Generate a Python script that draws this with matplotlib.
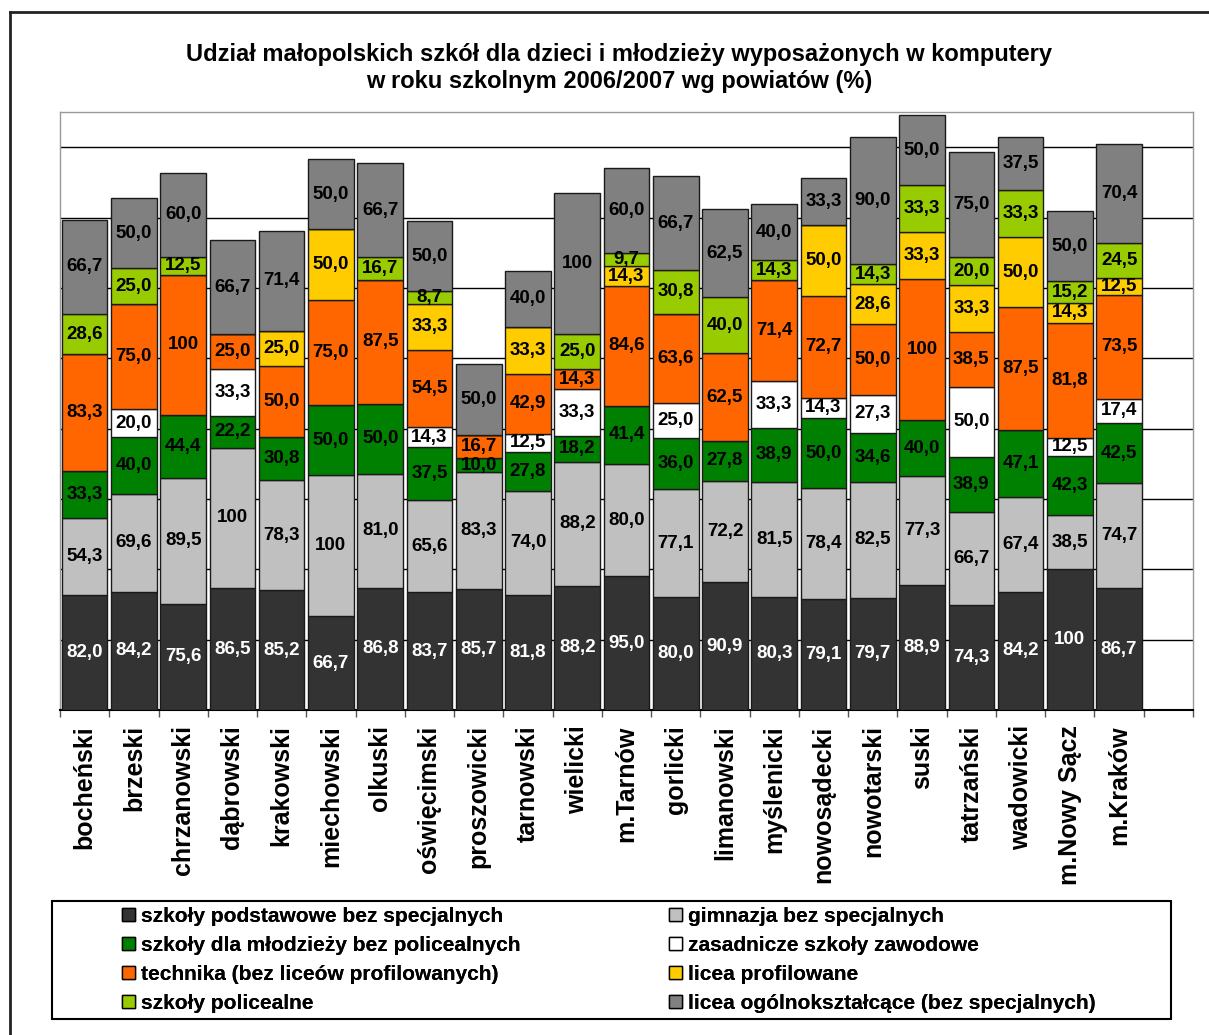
import matplotlib
matplotlib.use('Agg')
import matplotlib.pyplot as plt
from matplotlib.patches import Patch, Rectangle
from matplotlib.lines import Line2D
import numpy as np

plt.rcParams['font.family'] = ['Liberation Sans', 'DejaVu Sans']

powiaty = ['bocheński', 'brzeski', 'chrzanowski', 'dąbrowski', 'krakowski', 'miechowski',
           'olkuski', 'oświęcimski', 'proszowicki', 'tarnowski', 'wielicki', 'm.Tarnów',
           'gorlicki', 'limanowski', 'myślenicki', 'nowosądecki', 'nowotarski', 'suski',
           'tatrzański', 'wadowicki', 'm.Nowy Sącz', 'm.Kraków']

podstawowe = [82.0, 84.2, 75.6, 86.5, 85.2, 66.7, 86.8, 83.7, 85.7, 81.8, 88.2, 95.0,
              80.0, 90.9, 80.3, 79.1, 79.7, 88.9, 74.3, 84.2, 100, 86.7]
gimnazja = [54.3, 69.6, 89.5, 100, 78.3, 100, 81.0, 65.6, 83.3, 74.0, 88.2, 80.0,
            77.1, 72.2, 81.5, 78.4, 82.5, 77.3, 66.7, 67.4, 38.5, 74.7]
mlodziezy = [33.3, 40.0, 44.4, 22.2, 30.8, 50.0, 50.0, 37.5, 10.0, 27.8, 18.2, 41.4,
             36.0, 27.8, 38.9, 50.0, 34.6, 40.0, 38.9, 47.1, 42.3, 42.5]
zasadnicze = [0, 20.0, 0, 33.3, 0, 0, 0, 14.3, 0, 12.5, 33.3, 0,
              25.0, 0, 33.3, 14.3, 27.3, 0, 50.0, 0, 12.5, 17.4]
technika = [83.3, 75.0, 100, 25.0, 50.0, 75.0, 87.5, 54.5, 16.7, 42.9, 14.3, 84.6,
            63.6, 62.5, 71.4, 72.7, 50.0, 100, 38.5, 87.5, 81.8, 73.5]
licea_prof = [0, 0, 0, 0, 25.0, 50.0, 0, 33.3, 0, 33.3, 0, 14.3,
              0, 0, 0, 50.0, 28.6, 33.3, 33.3, 50.0, 14.3, 12.5]
policealne = [28.6, 25.0, 12.5, 0, 0, 0, 16.7, 8.7, 0, 0, 25.0, 9.7,
              30.8, 40.0, 14.3, 0, 14.3, 33.3, 20.0, 33.3, 15.2, 24.5]
licea_ogolne = [66.7, 50.0, 60.0, 66.7, 71.4, 50.0, 66.7, 50.0, 50.0, 40.0, 100, 60.0,
                66.7, 62.5, 40.0, 33.3, 90.0, 50.0, 75.0, 37.5, 50.0, 70.4]

series_names = ['szkoły podstawowe bez specjalnych', 'gimnazja bez specjalnych',
                'szkoły dla młodzieży bez policealnych', 'zasadnicze szkoły zawodowe',
                'technika (bez liceów profilowanych)', 'licea profilowane',
                'szkoły policealne', 'licea ogólnokształcące (bez specjalnych)']
series_values = [podstawowe, gimnazja, mlodziezy, zasadnicze, technika, licea_prof,
                 policealne, licea_ogolne]
colors = ['#333333', '#C0C0C0', '#008000', '#FFFFFF', '#FF6600', '#FFCC00', '#99CC00', '#808080']
label_colors = ['white', 'black', 'black', 'black', 'black', 'black', 'black', 'black']

title = 'Udział małopolskich szkół dla dzieci i młodzieży wyposażonych w komputery\nw roku szkolnym 2006/2007 wg powiatów (%)'

W, H = 1209, 1035
fig = plt.figure(figsize=(W / 100, H / 100), dpi=100)
fig.patch.set_facecolor('white')

ax = fig.add_axes([60 / W, 1 - 710 / H, 1133 / W, 598 / H])

x = np.arange(len(powiaty))
bottom = np.zeros(len(powiaty))
for name, vals, col, lc in zip(series_names, series_values, colors, label_colors):
    vals = np.array(vals, dtype=float)
    bars = ax.bar(x, vals, width=0.925, bottom=bottom, color=col, edgecolor='#1a1a1a',
                  linewidth=1.0, label=name, zorder=3)
    labels = ['' if v == 0 else ('100' if v == 100 else f'{v:.1f}'.replace('.', ',')) for v in vals]
    ax.bar_label(bars, labels=labels, label_type='center', color=lc, fontsize=13.5,
                 fontweight='bold', zorder=4)
    bottom += vals

ax.set_xlim(-0.5, 22.5)
ax.set_ylim(0, 425)
ax.set_yticks(np.arange(50, 401, 50))
ax.yaxis.grid(True, color='black', linewidth=1.0, zorder=0)
ax.set_axisbelow(True)
ax.tick_params(axis='y', length=0, labelleft=False)

ax.set_xticks(x)
ax.set_xticklabels(powiaty, rotation=90, fontsize=18, fontweight='bold', va='top', ha='center')
ax.set_xticks(np.arange(-0.5, 23, 1), minor=True)
ax.tick_params(axis='x', which='major', length=0, pad=11)
ax.tick_params(axis='x', which='minor', length=5, width=1, color='#555555')

for s in ['left', 'top', 'right']:
    ax.spines[s].set_color('#999999')
    ax.spines[s].set_linewidth(1.0)
ax.spines['bottom'].set_color('black')
ax.spines['bottom'].set_linewidth(1.5)

fig.text(619 / W, 1 - 68 / H, title, ha='center', va='center', fontsize=17,
         fontweight='bold', linespacing=1.2)

# outer frame
fig.add_artist(Line2D([10 / W, 10 / W], [0, 1 - 12 / H], transform=fig.transFigure,
                      color='#222222', lw=2))
fig.add_artist(Line2D([10 / W, 1], [1 - 12 / H, 1 - 12 / H], transform=fig.transFigure,
                      color='#222222', lw=2))

# legend box
fig.add_artist(Rectangle((52 / W, 1 - 1019 / H), (1171 - 52) / W, (1019 - 901) / H,
                         transform=fig.transFigure, fill=False, edgecolor='black', lw=1.5))

handles = [Patch(facecolor=c, edgecolor='black', linewidth=1) for c in colors]
col1 = [0, 2, 4, 6]
col2 = [1, 3, 5, 7]
for idxs, xpos in [(col1, 122), (col2, 669)]:
    leg = fig.legend([handles[i] for i in idxs], [series_names[i] for i in idxs],
                     loc='upper left', bbox_to_anchor=(xpos / W, 1 - 907 / H),
                     frameon=False, ncol=1, handlelength=0.6, handleheight=0.6,
                     handletextpad=0.3, labelspacing=0.48, borderpad=0, borderaxespad=0,
                     prop={'weight': 'bold', 'size': 15})
    fig.add_artist(leg)

fig.savefig('out.png', dpi=100, facecolor='white')
